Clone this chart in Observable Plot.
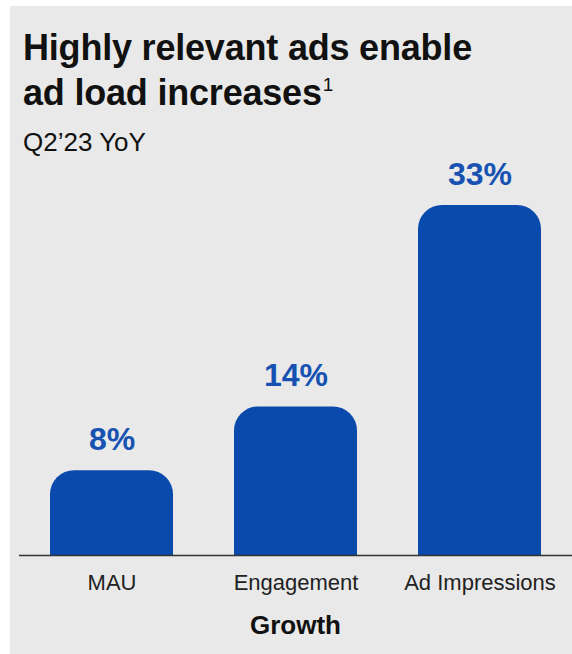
<!DOCTYPE html>
<html>
<head>
<meta charset="utf-8">
<script src="https://cdn.jsdelivr.net/npm/d3@7"></script>
<script src="https://cdn.jsdelivr.net/npm/@observablehq/plot@0.6"></script>
<style>
  html, body { margin: 0; padding: 0; background: #ffffff; width: 572px; height: 654px; overflow: hidden; }
  #panel { position: absolute; left: 10px; top: 6px; width: 562px; height: 648px; background: #e9e9e9;
           font-family: "Liberation Sans", Arial, Helvetica, sans-serif; color: #111; }
  #title { position: absolute; left: 13px; top: 19px; font-size: 36px; font-weight: 700; line-height: 45px; letter-spacing: -0.2px; margin: 0; white-space: nowrap; }
  #title .fn { font-size: 19px; font-weight: 400; position: relative; top: -14px; margin-left: 1px; }
  #subtitle { position: absolute; left: 13px; top: 121px; font-size: 26px; line-height: 30px; margin: 0; }
  #chart { position: absolute; left: 0; top: 150px; }
  #caption { position: absolute; left: 9px; width: 553px; top: 604px; font-size: 26px; font-weight: 700; line-height: 30px; text-align: center; }
</style>
</head>
<body>
<div id="panel">
  <div id="title">Highly relevant ads enable<br>ad load increases<span class="fn">1</span></div>
  <div id="subtitle">Q2’23 YoY</div>
  <div id="chart"></div>
  <div id="caption">Growth</div>
</div>
<script>
const categories = ["MAU", "Engagement", "Ad Impressions"];
const growth = [8, 14, 33];
const valueLabels = ["8%", "14%", "33%"];

const data = categories.map((c, i) => ({cat: c, value: growth[i], half: growth[i] / 2, label: valueLabels[i]}));

const barColor = "#0b4aad";
const labelColor = "#1752b3";

const chart = Plot.plot({
  width: 562,
  height: 444,
  marginTop: 49,
  marginBottom: 45,
  marginLeft: 9,
  marginRight: 0,
  style: {background: "transparent", fontFamily: "'Liberation Sans', Arial, Helvetica, sans-serif", overflow: "visible"},
  x: {domain: categories, paddingInner: 1/3, paddingOuter: 1/6},
  y: {domain: [0, 33], axis: null},
  marks: [
    Plot.barY(data, {x: "cat", y: "value", fill: barColor, rx: 24, ry: 24}),
    Plot.barY(data, {x: "cat", y: "half", fill: barColor}),
    Plot.ruleY([0], {stroke: "#333", strokeWidth: 1.3}),
    Plot.text(data, {x: "cat", y: "value", text: "label", dy: -31, fill: labelColor, fontSize: 32, fontWeight: 700}),
    Plot.axisX({tickSize: 0, tickPadding: 19, fontSize: 22, label: null, fill: "#222"})
  ]
});
document.getElementById("chart").appendChild(chart);
</script>
</body>
</html>
